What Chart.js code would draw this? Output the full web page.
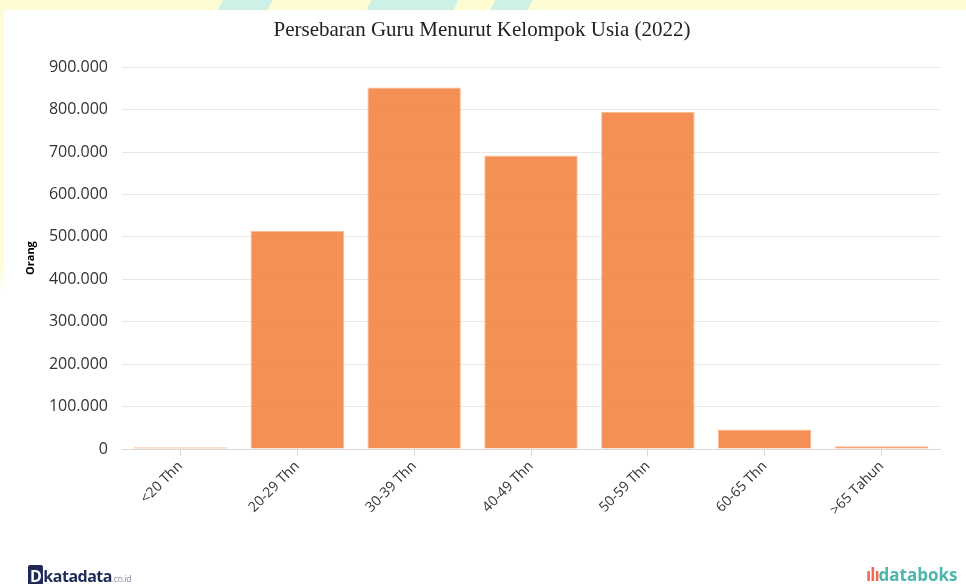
<!DOCTYPE html>
<html>
<head>
<meta charset="utf-8">
<script src="https://cdn.jsdelivr.net/npm/chart.js@4"></script>
<style>
  html, body { margin: 0; padding: 0; }
  body {
    width: 966px; height: 584px; overflow: hidden; position: relative;
    background:
      linear-gradient(180deg, transparent 0 45%, #fff 50%),
      linear-gradient(115deg, transparent 0 18%, #cdf1e7 18% 22%, transparent 22% 30%, #cdf1e7 30% 37%, transparent 37% 40%, #cdf1e7 40% 43%, transparent 43% 90%, #cdf1e7 90% 95%, transparent 95%),
      #fefcd2;
  }
  #card {
    position: absolute; left: 4px; top: 10px; width: 962px; height: 574px; background: #fff;
  }
  #wrap { position: absolute; left: 0; top: 0; width: 966px; height: 584px; }
  .logo-k { position: absolute; left: 28px; top: 565px; font: bold 16px "Open Sans", sans-serif; color: #1f2a56; letter-spacing: -0.5px; }
  .logo-k small { font: 9px "Open Sans", sans-serif; color: #8a90a8; }
  .logo-d { position: absolute; left: 866px; top: 563px; font: bold 17px "Open Sans", sans-serif; color: #4db5ad; }
  .logo-d b { color: #ee6a52; font-weight: bold; letter-spacing: -1px; }
</style>
</head>
<body>
<div id="card"></div>
<div id="wrap"><canvas id="grafiek" width="966" height="584"></canvas></div>
<div class="logo-k"><span style="background:#1f2a56;color:#fff;padding:0 2px;border-radius:2px">D</span>katadata<small>.co.id</small></div>
<div class="logo-d"><b>ılı</b>databoks</div>
<script>
const kelompokUsia = ['<20 Thn', '20-29 Thn', '30-39 Thn', '40-49 Thn', '50-59 Thn', '60-65 Thn', '>65 Tahun'];
const jumlahGuru = [4000, 514000, 852000, 692000, 795000, 46000, 6500];

const formatTitik = v => String(v).replace(/\B(?=(\d{3})+(?!\d))/g, '.');

const ctx = document.getElementById('grafiek').getContext('2d');
new Chart(ctx, {
    type: 'bar',
    data: {
        labels: kelompokUsia,
        datasets: [{
            label: 'Orang',
            data: jumlahGuru,
            backgroundColor: 'rgba(243, 135, 72, 0.93)',
            borderColor: 'rgba(250, 190, 150, 1)',
            borderWidth: 1,
            barPercentage: 0.8,
            categoryPercentage: 1
        }]
    },
    options: {
        responsive: false,
        animation: false,
        layout: { padding: { left: 24, right: 26, top: 18, bottom: 0 } },
        plugins: {
            legend: { display: false },
            tooltip: { enabled: false },
            title: {
                display: true,
                text: 'Persebaran Guru Menurut Kelompok Usia (2022)',
                color: '#222',
                font: { family: '"Liberation Serif", serif', size: 21, weight: 'normal' },
                padding: { top: 0, bottom: 24 }
            }
        },
        scales: {
            x: {
                grid: { offset: false, drawOnChartArea: false, drawTicks: true, tickLength: 7, color: '#d8d8d8' },
                border: { color: '#d8d8d8' },
                ticks: {
                    maxRotation: 45, minRotation: 45, padding: 2,
                    color: '#333',
                    font: { family: '"Open Sans", sans-serif', size: 14 }
                },
                afterFit: s => { s.height = 135; }
            },
            y: {
                min: 0, max: 900000,
                grid: { color: '#e8e8e8', drawTicks: false },
                border: { display: false },
                ticks: {
                    stepSize: 100000, padding: 14, color: '#333',
                    font: { family: '"Open Sans", sans-serif', size: 16 },
                    callback: v => formatTitik(v)
                },
                title: {
                    display: true, text: 'Orang', color: '#000',
                    font: { family: '"Open Sans", sans-serif', size: 11, weight: 'bold' },
                    padding: 0
                },
                afterFit: s => { s.width = 98; }
            }
        }
    }
});
</script>
</body>
</html>
